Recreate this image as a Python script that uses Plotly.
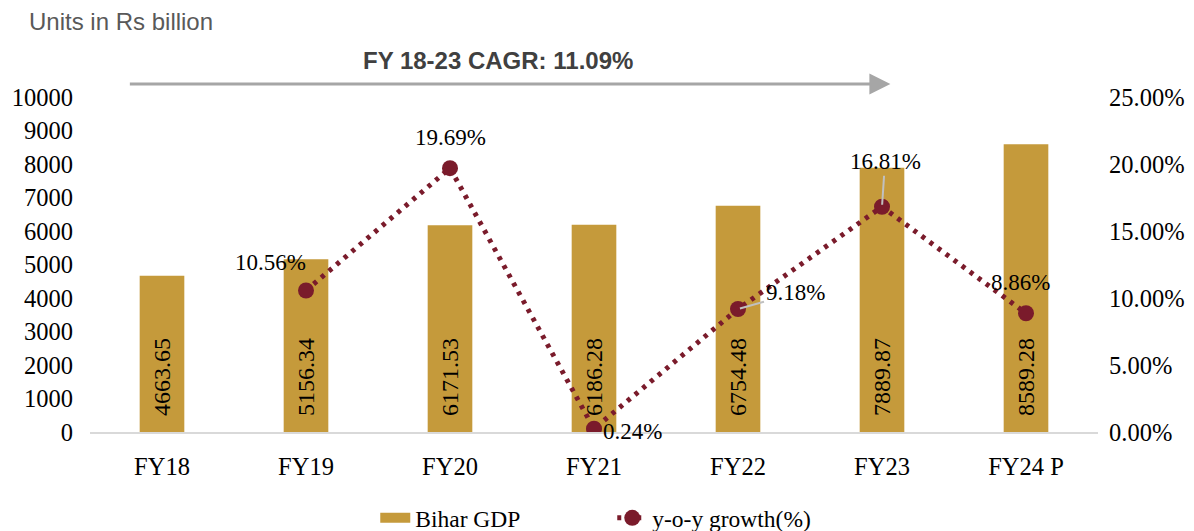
import plotly.graph_objects as go

categories = ["FY18", "FY19", "FY20", "FY21", "FY22", "FY23", "FY24 P"]
gdp = [4663.65, 5156.34, 6171.53, 6186.28, 6754.48, 7889.87, 8589.28]
growth = [None, 10.56, 19.69, 0.24, 9.18, 16.81, 8.86]

# label placement offsets (pixels) for growth labels: (xshift, yshift, leader)
growth_label_pos = [None, (-36, 28, False), (0, 31, False), (38, -3, False),
                    (57, 16, True), (3, 45, True), (-6, 31, False)]

BAR_COLOR = "#c59a3b"
LINE_COLOR = "#7a1b2b"
SERIF = "Liberation Serif, Times New Roman, serif"
SANS = "Liberation Sans, Arial, sans-serif"

fig = go.Figure()
fig.add_trace(go.Bar(
    x=categories, y=gdp, name="Bihar GDP",
    marker=dict(color=BAR_COLOR, line=dict(width=0)),
    yaxis="y", showlegend=False,
))
# legend entry for bars drawn as a wide rectangle like the reference
fig.add_trace(go.Scatter(
    x=[None], y=[None], name="Bihar GDP", mode="lines",
    line=dict(color=BAR_COLOR, width=12), yaxis="y",
))
fig.add_trace(go.Scatter(
    x=categories, y=growth, name="y-o-y growth(%)", yaxis="y2",
    mode="lines+markers",
    line=dict(color=LINE_COLOR, width=5, dash="4px,6px"),
    marker=dict(color=LINE_COLOR, size=16, symbol="circle"),
))

annotations = []
# bar value labels
for c, v in zip(categories, gdp):
    annotations.append(dict(
        x=c, y=0, xref="x", yref="y", text=f"{v:.2f}", showarrow=False,
        textangle=-90, yanchor="bottom", xanchor="center", yshift=14,
        font=dict(family=SERIF, size=24, color="#000000"),
    ))
# growth labels
for c, g, pos in zip(categories, growth, growth_label_pos):
    if g is None:
        continue
    dx, dy, leader = pos
    if leader:
        annotations.append(dict(
            x=c, y=g, xref="x", yref="y2", text=f"{g:.2f}%",
            showarrow=True, arrowhead=0, arrowwidth=2, arrowcolor="#c0c0c0",
            ax=dx, ay=-dy, standoff=2,
            font=dict(family=SERIF, size=23, color="#000000"),
        ))
    else:
        annotations.append(dict(
            x=c, y=g, xref="x", yref="y2", text=f"{g:.2f}%", showarrow=False,
            xshift=dx, yshift=dy,
            font=dict(family=SERIF, size=23, color="#000000"),
        ))

# header texts
annotations.append(dict(
    x=-0.0625, y=1.224, xref="paper", yref="paper", xanchor="left", yanchor="middle",
    text="Units in Rs billion", showarrow=False,
    font=dict(family=SANS, size=24, color="#595959"),
))
annotations.append(dict(
    x=0.405, y=1.108, xref="paper", yref="paper", xanchor="center", yanchor="middle",
    text="<b>FY 18-23 CAGR: 11.09%</b>", showarrow=False,
    font=dict(family=SANS, size=24, color="#404040"),
))
# CAGR arrow
annotations.append(dict(
    x=0.794, y=1.039, xref="paper", yref="paper", text="",
    showarrow=True, ax=-762, ay=0, axref="pixel", ayref="pixel",
    arrowhead=2, arrowsize=1.4, arrowwidth=3, arrowcolor="#a6a6a6", standoff=0,
))

TICKFONT = dict(family=SERIF, size=24.5, color="#000000")

# page has an 8px body margin, so the figure is sized/offset to compensate
fig.update_layout(
    width=1186, height=523,
    margin=dict(l=82, r=96, t=89, b=99, autoexpand=False),
    paper_bgcolor="white", plot_bgcolor="white",
    bargap=0.69,
    showlegend=True,
    legend=dict(orientation="h", x=0.283, xanchor="left", y=-0.257, yanchor="middle",
                font=dict(family=SERIF, size=23.5, color="#000000"),
                entrywidth=192, entrywidthmode="pixels", traceorder="normal",
                bgcolor="rgba(0,0,0,0)"),
    xaxis=dict(type="category", showgrid=False, showline=True, linecolor="#d9d9d9",
               linewidth=2, ticks="", ticklabelstandoff=12, automargin=False,
               tickfont=TICKFONT, zeroline=False),
    yaxis=dict(range=[0, 10000], dtick=1000, tickformat="d", showgrid=False,
               showline=False, zeroline=False, ticks="", ticklabelstandoff=16,
               automargin=False, tickfont=TICKFONT),
    yaxis2=dict(range=[0, 25], dtick=5, overlaying="y", side="right",
                tickformat=".2f", ticksuffix="%", showgrid=False, showline=False,
                zeroline=False, ticks="", ticklabelstandoff=10, automargin=False,
                tickfont=TICKFONT),
    annotations=annotations,
)

fig.write_html("out.html")
